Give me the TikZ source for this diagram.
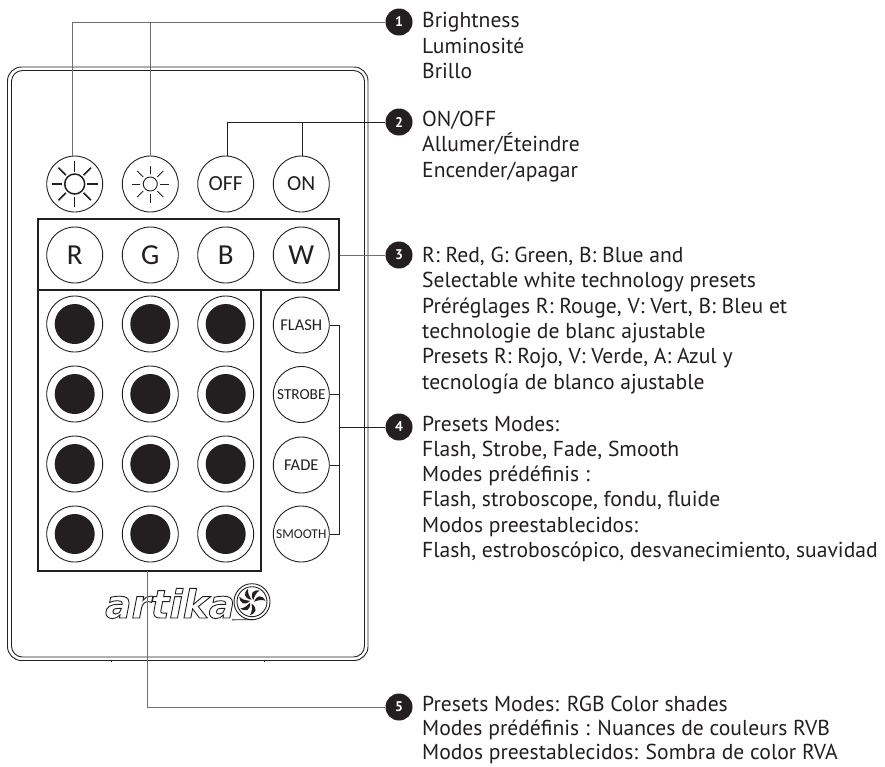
\documentclass[tikz,border=0pt]{standalone}
\usepackage{fontspec}
\setmainfont{PT Sans}
\newfontfamily\keyfont{Carlito}
\newfontfamily\logofont{DejaVu Sans}
\usepackage{tikz}
\definecolor{inkdark}{HTML}{231F20}
\definecolor{leadgray}{HTML}{6D6E71}
\tikzset{
  key/.style={circle, draw=inkdark, line width=0.9pt, fill=white, minimum size=56pt, inner sep=0pt, text=inkdark, font=\keyfont\fontsize{21.5}{21.5}\selectfont},
  bigkey/.style={key, font=\keyfont\fontsize{29}{29}\selectfont},
  smallkey/.style={key, font=\keyfont\fontsize{16.5}{16.5}\selectfont},
  colorkey/.style={key, path picture={\fill[inkdark] (path picture bounding box.center) circle (20pt);}},
  badge/.style={circle, fill=inkdark, minimum size=27pt, inner sep=0pt, text=white, font=\bfseries\fontsize{14}{14}\selectfont},
  legend/.style={anchor=north west, inner sep=0pt, align=left, text=inkdark, font=\fontsize{21.6}{25.3}\selectfont},
  frame/.style={draw=inkdark, line width=2pt},
  lead/.style={draw=leadgray, line width=1pt},
  leaddark/.style={draw=inkdark, line width=0.8pt}
}
\begin{document}
\begin{tikzpicture}[x=1pt, y=-1pt]
  \useasboundingbox (0,0) rectangle (885,766);
  % Remote case
  \draw[inkdark, line width=0.9pt, rounded corners=14pt] (7.5,67) rectangle (368,660.5);
  \draw[inkdark, line width=0.9pt, rounded corners=11pt] (11.5,70.5) rectangle (364.5,657);
  \draw[inkdark, line width=0.9pt] (111,660.5) -- (111,662) (264,660.5) -- (264,662);
  % Frames round the key groups
  \node[frame, minimum width=301pt, minimum height=71pt, inner sep=0pt] (rgbwframe) at (188.5,254) {};
  \node[frame, minimum width=223pt, minimum height=281pt, inner sep=0pt] (gridframe) at (149.5,430) {};
  % Top row
  \node[key] (sunA) at (74.7,184) {};
  \node[key] (sunB) at (150.3,184) {};
  \node[key] (off) at (225.7,184) {OFF};
  \node[key] (on) at (301.3,184) {ON};
  \begin{scope}[shift={(sunA)}]
    \draw[inkdark, line width=1.5pt] (0,0) circle (10);
    \foreach \a in {0,45,...,315}
      \draw[inkdark, line width=1.5pt] (\a:12.5) -- (\a:23);
  \end{scope}
  \begin{scope}[shift={(sunB)}]
    \draw[inkdark, line width=0.9pt] (0,0) circle (7);
    \foreach \a in {0,45,...,315}
      \draw[inkdark, line width=0.9pt] (\a:10) -- (\a:18.5);
  \end{scope}
  % RGBW row
  \node[bigkey] (red) at (74.7,255) {R};
  \node[bigkey] (green) at (150.3,255) {G};
  \node[bigkey] (blue) at (225.7,255) {B};
  \node[bigkey] (white) at (301.3,255) {W};
  % Colour grid
  \node[colorkey] (cA) at (74.7,324) {};
  \node[colorkey] (cB) at (150.3,324) {};
  \node[colorkey] (cC) at (225.7,324) {};
  \node[colorkey] (cD) at (74.7,394) {};
  \node[colorkey] (cE) at (150.3,394) {};
  \node[colorkey] (cF) at (225.7,394) {};
  \node[colorkey] (cG) at (74.7,464) {};
  \node[colorkey] (cH) at (150.3,464) {};
  \node[colorkey] (cI) at (225.7,464) {};
  \node[colorkey] (cJ) at (74.7,534) {};
  \node[colorkey] (cK) at (150.3,534) {};
  \node[colorkey] (cL) at (225.7,534) {};
  % Mode keys
  \node[smallkey] (flash) at (301.3,325) {FLASH};
  \node[smallkey, font=\keyfont\fontsize{15.3}{15.3}\selectfont] (strobe) at (301.3,394.5) {STROBE};
  \node[smallkey] (fade) at (301.3,465) {FADE};
  \node[smallkey, font=\keyfont\fontsize{13.5}{13.5}\selectfont] (smooth) at (301.3,534) {SMOOTH};
  % Logo
  \node[inkdark, inner sep=0pt, anchor=base west] (logo) at (105,618)
    {\special{pdf:code 1 Tr 0.9 w}\logofont\bfseries\itshape\fontsize{39}{39}\selectfont artika\special{pdf:code 0 Tr}};
  \draw[inkdark, line width=0.9pt] (252,601.7) circle (18);
  \draw[inkdark, line width=0.9pt] (252,601.7) circle (15);
  \draw[inkdark, line width=0.9pt] (232,619.8) -- (252,619.7);
  \begin{scope}[shift={(252,601.7)}]
    \foreach \a in {0,51.4,...,308}
      \fill[inkdark, rotate=\a] (2,0) .. controls (5,-7) and (10,-7) .. (13.5,-1) .. controls (10,-2.5) and (6,-1.5) .. (2,0);
  \end{scope}
  % Callouts
  \node[badge] (badgeA) at (399,22) {1};
  \node[badge] (badgeB) at (399,122) {2};
  \node[badge] (badgeC) at (399,255) {3};
  \node[badge] (badgeD) at (399,427) {4};
  \node[badge] (badgeE) at (399,707) {5};
  \node[legend] (textA) at (422,12.5) {Brightness\\Luminosité\\Brillo};
  \node[legend] (textB) at (422,111) {ON/OFF\\Allumer/Éteindre\\Encender/apagar};
  \node[legend] (textC) at (422,247) {R: Red, G: Green, B: Blue and\\Selectable white technology presets\\Préréglages R: Rouge, V: Vert, B: Bleu et\\technologie de blanc ajustable\\Presets R: Rojo, V: Verde, A: Azul y\\tecnología de blanco ajustable};
  \node[legend] (textD) at (422,415.5) {Presets Modes:\\Flash, Strobe, Fade, Smooth\\Modes prédéfinis :\\Flash, stroboscope, fondu, fluide\\Modos preestablecidos:\\Flash, estroboscópico, desvanecimiento, suavidad};
  \node[legend, font=\fontsize{21.6}{24}\selectfont] (textE) at (422,696) {Presets Modes: RGB Color shades\\Modes prédéfinis : Nuances de couleurs RVB\\Modos preestablecidos: Sombra de color RVA};
  % Leader lines
  \draw[lead] ([xshift=-2pt]sunA.north) |- (badgeA);
  \draw[lead] (sunB.north) -- (sunB.north |- badgeA);
  \draw[leaddark] ([xshift=1.3pt]off.north) |- (badgeB);
  \draw[leaddark] ([xshift=1pt]on.north) -- ([xshift=1pt]on.north |- badgeB);
  \draw[lead] (rgbwframe.east |- badgeC) -- (badgeC);
  \coordinate (bus) at (339,427);
  \draw[leaddark] (flash.east) -| (bus);
  \draw[leaddark] (smooth.east) -| (bus);
  \draw[leaddark] (strobe.east) -- (strobe.east -| bus);
  \draw[leaddark] (fade.east) -- (fade.east -| bus);
  \draw[leaddark] (bus) -- (badgeD);
  \draw[lead] (147,571) |- (badgeE);
\end{tikzpicture}
\end{document}
